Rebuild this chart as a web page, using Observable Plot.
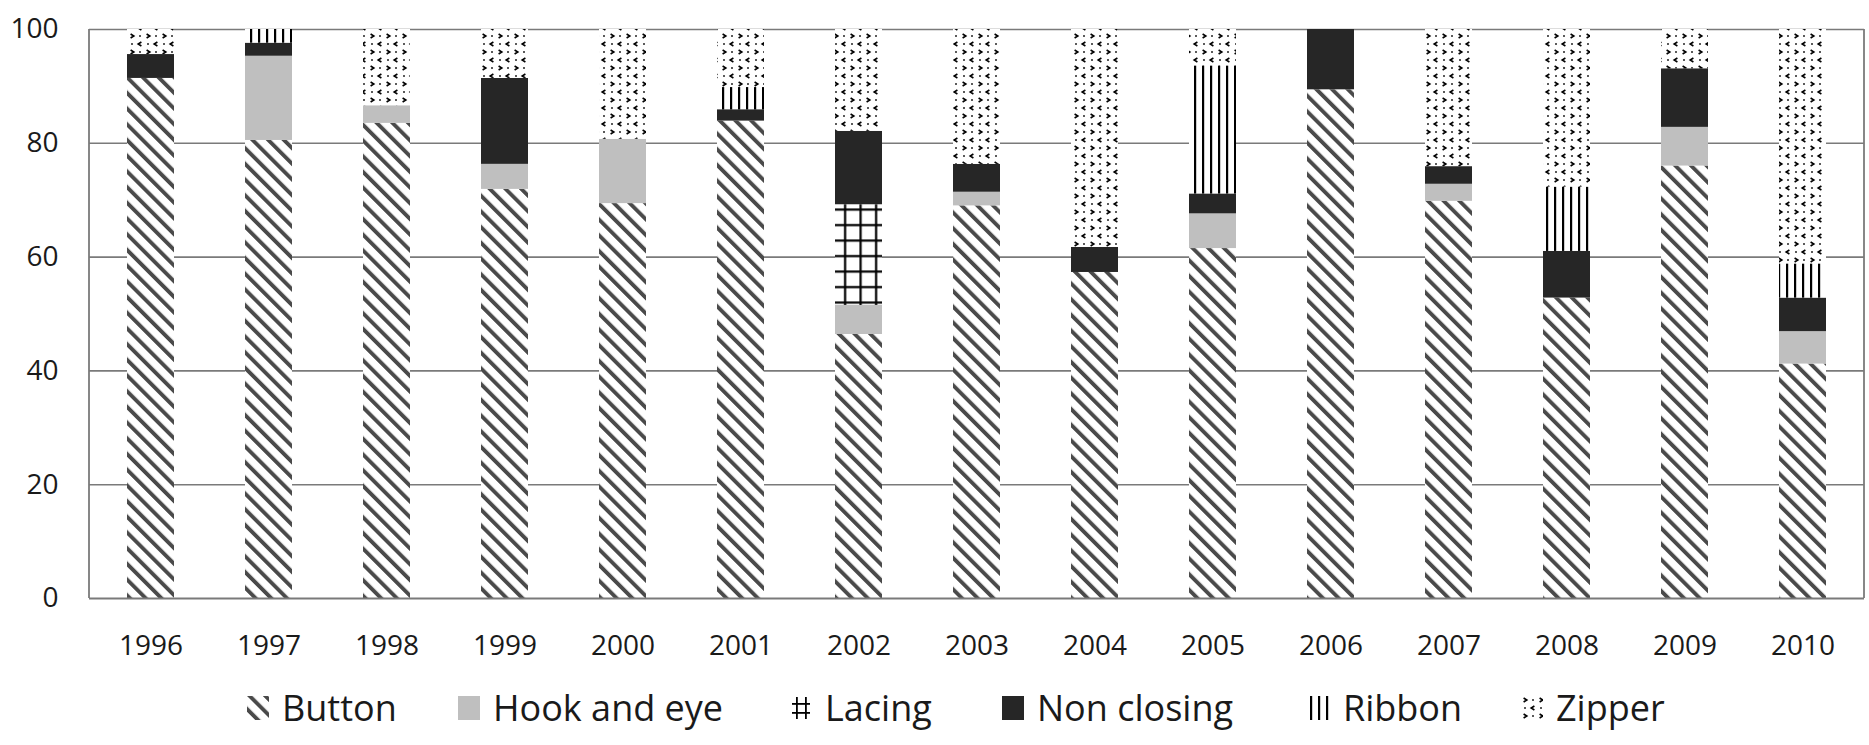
<!DOCTYPE html>
<html>
<head>
<meta charset="utf-8">
<script src="https://cdn.jsdelivr.net/npm/d3@7"></script>
<script src="https://cdn.jsdelivr.net/npm/@observablehq/plot@0.6"></script>
<style>
  html, body { margin: 0; padding: 0; background: #fff; }
  body { width: 1869px; height: 745px; overflow: hidden; font-family: "Open Sans", sans-serif; }
  #legend { position: relative; width: 1869px; height: 65px; }
  .item { position: absolute; top: 0; height: 56px; display: flex; align-items: center; font-size: 36px; color: #1a1a1a; line-height: 1; white-space: nowrap; }
  .item svg { margin-right: 13px; flex: none; }
</style>
</head>
<body>
<svg width="0" height="0" style="position:absolute">
  <defs>
    <pattern id="p-button" patternUnits="userSpaceOnUse" width="11.1" height="11.1" patternTransform="rotate(-45)">
      <rect width="11.1" height="11.1" fill="#fff"/>
      <rect x="0" y="0" width="3.9" height="11.1" fill="#4a4a4a"/>
    </pattern>
    <pattern id="p-lacing" patternUnits="userSpaceOnUse" width="15.5" height="15.5">
      <rect width="15.5" height="15.5" fill="#fff"/>
      <rect x="7" y="0" width="2.2" height="15.5" fill="#000"/>
      <rect x="0" y="7" width="15.5" height="2.2" fill="#000"/>
    </pattern>
    <pattern id="p-ribbon" patternUnits="userSpaceOnUse" width="8" height="8">
      <rect width="8" height="8" fill="#fff"/>
      <rect x="2" y="0" width="2.2" height="8" fill="#000"/>
    </pattern>
    <pattern id="p-zipper" patternUnits="userSpaceOnUse" width="16" height="16">
      <rect width="16" height="16" fill="#fff"/>
      <path d="M2.6,2 L5.8,4 L2.6,6" fill="none" stroke="#000" stroke-width="1.6"/>
      <path d="M13.4,10 L10.2,12 L13.4,14" fill="none" stroke="#000" stroke-width="1.6"/>
      <rect x="11.2" y="3.2" width="1.6" height="1.6" fill="#000"/>
      <rect x="3.2" y="11.2" width="1.6" height="1.6" fill="#000"/>
    </pattern>
  </defs>
</svg>
<div id="chart"></div>
<div id="legend"></div>
<script>
// ---- data ----
const years = ["1996","1997","1998","1999","2000","2001","2002","2003","2004","2005","2006","2007","2008","2009","2010"];
const types = ["Button", "Hook and eye", "Lacing", "Non closing", "Ribbon", "Zipper"];
const button     = [91.4, 80.5, 83.5, 71.9, 69.4, 83.9, 46.4, 69.0, 57.3, 61.5, 89.4, 69.8, 52.8, 76.0, 41.2];
const hookAndEye = [0, 14.8, 3.1, 4.4, 11.3, 0, 5.1, 2.4, 0, 6.1, 0, 3.0, 0, 6.8, 5.7];
const lacing     = [0, 0, 0, 0, 0, 0, 17.7, 0, 0, 0, 0, 0, 0, 0, 0];
const nonClosing = [4.2, 2.3, 0, 15.1, 0, 2.0, 12.9, 4.9, 4.4, 3.5, 10.6, 3.1, 8.2, 10.3, 5.9];
const ribbon     = [0, 2.4, 0, 0, 0, 3.9, 0, 0, 0, 22.5, 0, 0, 11.3, 0, 6.0];
const zipper     = [4.4, 0, 13.4, 8.6, 19.3, 10.2, 17.9, 23.7, 38.3, 6.4, 0, 24.1, 27.7, 6.9, 41.2];
const yTicks = [0, 20, 40, 60, 80, 100];

const fills = ["url(#p-button)", "#bfbfbf", "url(#p-lacing)", "#262626", "url(#p-ribbon)", "url(#p-zipper)"];
const series = [button, hookAndEye, lacing, nonClosing, ribbon, zipper];

const rows = [];
years.forEach((year, i) => {
  types.forEach((type, k) => {
    const v = series[k][i];
    if (v > 0) rows.push({year, type, value: v});
  });
});

const gridColor = "#7a7a7a";

const chart = Plot.plot({
  width: 1869,
  height: 680,
  marginTop: 29,
  marginBottom: 82,
  marginLeft: 89,
  marginRight: 5,
  style: {fontFamily: "Open Sans, sans-serif", fontSize: "28px", color: "#1a1a1a", background: "#fff"},
  x: {type: "band", domain: years, paddingInner: 0.6, paddingOuter: 0.3, label: null},
  y: {domain: [0, 100], label: null},
  color: {domain: types, range: fills},
  marks: [
    Plot.ruleY(yTicks.filter(d => d > 0), {stroke: gridColor, strokeWidth: 1.6}),
    Plot.barY(rows, Plot.stackY({x: "year", y: "value", fill: "type", order: null})),
    Plot.ruleY([0], {stroke: gridColor, strokeWidth: 1.8}),
    Plot.axisY({ticks: yTicks, tickSize: 0, tickPadding: 31, fontSize: 28, label: null}),
    Plot.axisX({tickSize: 0, tickPadding: 37, fontSize: 28, label: null})
  ]
});
document.getElementById("chart").appendChild(chart);

// left and right border lines of the plot area
const svg = d3.select(chart);
const yS = chart.scale("y");
[89, 1864].forEach(xp => {
  svg.append("line")
    .attr("x1", xp).attr("x2", xp)
    .attr("y1", yS.apply(100)).attr("y2", yS.apply(0))
    .attr("stroke", gridColor).attr("stroke-width", 1.8);
});

// ---- legend ----
const legendTextX = [282, 493, 825, 1037, 1343, 1556];
const legend = d3.select("#legend");
types.forEach((t, k) => {
  const item = legend.append("div").attr("class", "item").style("left", (legendTextX[k] - 35) + "px");
  const s = item.append("svg").attr("width", 22).attr("height", 24);
  if (t === "Lacing") {
    [6, 15].forEach(p => {
      s.append("rect").attr("x", p).attr("y", 1).attr("width", 1.8).attr("height", 22).attr("fill", "#000");
      s.append("rect").attr("x", 2).attr("y", p + 1).attr("width", 18).attr("height", 1.8).attr("fill", "#000");
    });
  } else {
    s.append("rect").attr("width", 22).attr("height", 24).attr("fill", fills[k]);
  }
  item.append("span").text(t);
});
</script>
</body>
</html>
